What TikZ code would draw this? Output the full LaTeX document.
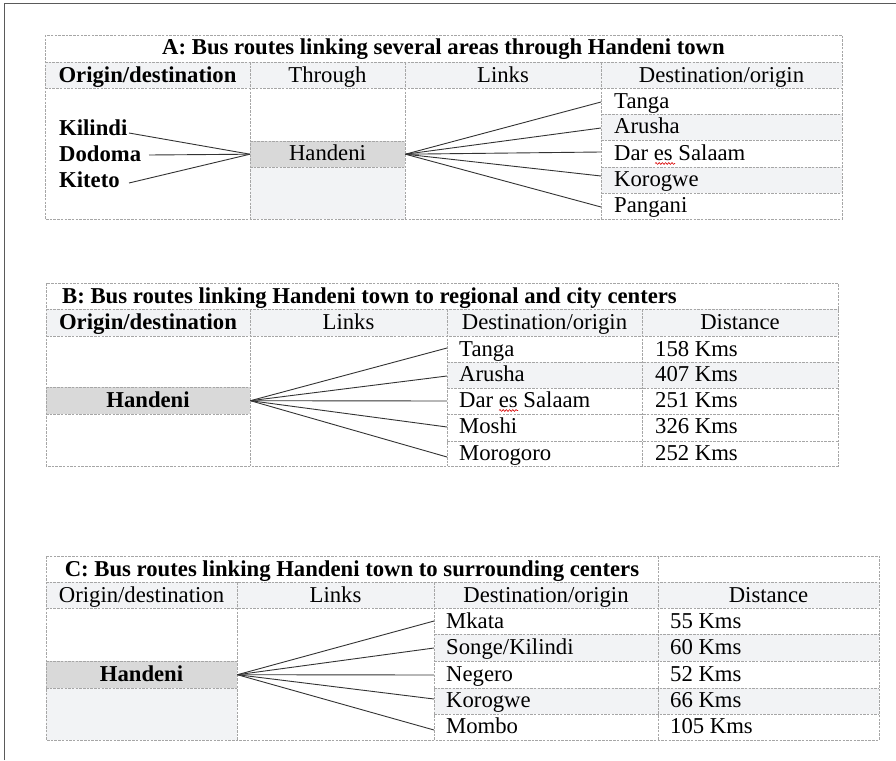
\documentclass[tikz,border=0pt]{standalone}
\usepackage{fontspec}
\setmainfont{Liberation Serif}
\usetikzlibrary{decorations.pathmorphing}
\definecolor{hdr}{HTML}{F2F3F5}
\definecolor{hcell}{HTML}{D9D9D9}
\definecolor{gridc}{HTML}{A6A6A6}
\definecolor{framec}{HTML}{5A5A5A}
\newcommand\tf{\fontsize{22.7}{27}\selectfont}
\begin{document}
\begin{tikzpicture}[x=1pt,y=-1pt,
  grid/.style={draw=gridc, line width=0.8pt, dash pattern=on 2.5pt off 1.2pt},
  lt/.style={inner sep=0pt, anchor=base west, font=\tf},
  lb/.style={inner sep=0pt, anchor=base west, font=\tf\bfseries},
  ct/.style={inner sep=0pt, anchor=base, font=\tf},
  bt/.style={inner sep=0pt, anchor=base, font=\tf\bfseries},
  cellbox/.style={fill=hcell, inner sep=0pt, anchor=north west},
  link/.style={draw=black!80, line width=0.9pt},
  squig/.style={draw=red!85!black, line width=0.6pt, decorate, decoration={snake, amplitude=0.9pt, segment length=3.2pt}}]
\useasboundingbox (0,0) rectangle (896,760);
\fill[white] (0,0) rectangle (896,760);
\draw[framec, line width=1.5pt] (4.5,760) -- (4.5,3.5) -- (896,3.5);

% ---------------- Table A ----------------
\fill[hdr] (45,62) rectangle (842,88);
\fill[hdr] (250,167) rectangle (405,219);
\fill[hdr] (601,114) rectangle (842,140);
\fill[hdr] (601,167) rectangle (842,193);
\node[cellbox, minimum width=155pt, minimum height=26pt] (hA) at (250,141) {};
\draw[grid] (45,35) rectangle (842,219);
\draw[grid] (45,62) -- (842,62) (45,88) -- (842,88);
\draw[grid] (250,62) -- (250,219) (405,62) -- (405,219) (601,62) -- (601,219);
\draw[grid] (250,141) -- (405,141) (250,167) -- (405,167);
\draw[grid] (601,114) -- (842,114) (601,140) -- (842,140) (601,167) -- (842,167) (601,193) -- (842,193);

\node[bt] (tA) at (443.5,55) {A: Bus routes linking several areas through Handeni town};
\node[bt] (hA1) at (147.5,82) {Origin/destination};
\node[ct] (hA2) at (327.5,82) {Through};
\node[ct] (hA3) at (503,82) {Links};
\node[ct] (hA4) at (721.5,82) {Destination/origin};
\node[lb] (kil) at (59,135) {Kilindi};
\node[lb] (dod) at (59,161) {Dodoma};
\node[lb] (kit) at (59,187) {Kiteto};
\node[ct] (hAt) at (327.5,160.5) {Handeni};
\node[lt] (dA1) at (614,108) {Tanga};
\node[lt] (dA2) at (614,133.5) {Arusha};
\node[lt] (dA3) at (614,160) {Dar es Salaam};
\node[lt] (dA4) at (614,186) {Korogwe};
\node[lt] (dA5) at (614,212) {Pangani};
\draw[squig] (655,163.5) -- (675,163.5);

\coordinate (sA1) at (129,133);
\coordinate (sA2) at (149,155);
\coordinate (sA3) at (129,183);
\draw[link] (sA1) -- (hA.west);
\draw[link] (sA2) -- (hA.west);
\draw[link] (sA3) -- (hA.west);
\coordinate (eA1) at (601,102);
\coordinate (eA2) at (601,128);
\coordinate (eA3) at (601,152);
\coordinate (eA4) at (601,176);
\coordinate (eA5) at (601,207);
\foreach \i in {1,...,5} \draw[link] (hA.east) -- (eA\i);

% ---------------- Table B ----------------
\fill[hdr] (46,309) rectangle (838,336);
\fill[hdr] (447,362) rectangle (838,388);
\node[cellbox, minimum width=204pt, minimum height=27pt] (hB) at (46,387) {};
\draw[grid] (46,283) rectangle (838,466);
\draw[grid] (46,309) -- (838,309) (46,336) -- (838,336);
\draw[grid] (250,309) -- (250,466) (447,309) -- (447,466) (642,309) -- (642,466);
\draw[grid] (46,387) -- (250,387) (46,414) -- (250,414);
\draw[grid] (447,362) -- (838,362) (447,388) -- (838,388) (447,414) -- (838,414) (447,441) -- (838,441);

\node[lb] (tB) at (62,303) {B: Bus routes linking Handeni town to regional and city centers};
\node[bt] (hB1) at (148,329) {Origin/destination};
\node[ct] (hB2) at (348.5,329) {Links};
\node[ct] (hB3) at (544.5,329) {Destination/origin};
\node[ct] (hB4) at (740,329) {Distance};
\node[bt] (hBt) at (148,407) {Handeni};
\node[lt] (dB1) at (459,356) {Tanga};
\node[lt] (dB2) at (459,381.5) {Arusha};
\node[lt] (dB3) at (459,407) {Dar es Salaam};
\node[lt] (dB4) at (459,433) {Moshi};
\node[lt] (dB5) at (459,460) {Morogoro};
\draw[squig] (499,410.5) -- (518,410.5);
\node[lt] (kB1) at (655,356) {158 Kms};
\node[lt] (kB2) at (655,381.5) {407 Kms};
\node[lt] (kB3) at (655,407) {251 Kms};
\node[lt] (kB4) at (655,433) {326 Kms};
\node[lt] (kB5) at (655,460) {252 Kms};
\coordinate (eB1) at (447,348);
\coordinate (eB2) at (447,376);
\coordinate (eB3) at (447,401);
\coordinate (eB4) at (447,427);
\coordinate (eB5) at (447,457);
\foreach \i in {1,...,5} \draw[link] (hB.east) -- (eB\i);

% ---------------- Table C ----------------
\fill[hdr] (46,582) rectangle (879,608);
\fill[hdr] (46,688) rectangle (237,740);
\fill[hdr] (434,634) rectangle (879,661);
\fill[hdr] (434,688) rectangle (879,714);
\node[cellbox, minimum width=191pt, minimum height=27pt] (hC) at (46,661) {};
\draw[grid] (46,556) rectangle (879,740);
\draw[grid] (46,582) -- (879,582) (46,608) -- (879,608);
\draw[grid] (658,556) -- (658,740) (237,582) -- (237,740) (434,582) -- (434,740);
\draw[grid] (46,661) -- (237,661) (46,688) -- (237,688);
\draw[grid] (434,634) -- (879,634) (434,661) -- (879,661) (434,688) -- (879,688) (434,714) -- (879,714);

\node[bt] (tC) at (352,576) {C: Bus routes linking Handeni town to surrounding centers};
\node[ct] (hC1) at (141.5,602) {Origin/destination};
\node[ct] (hC2) at (335.5,602) {Links};
\node[ct] (hC3) at (546,602) {Destination/origin};
\node[ct] (hC4) at (768.5,602) {Distance};
\node[bt] (hCt) at (141.5,681) {Handeni};
\node[lt] (dC1) at (446,628) {Mkata};
\node[lt] (dC2) at (446,654.5) {Songe/Kilindi};
\node[lt] (dC3) at (446,681) {Negero};
\node[lt] (dC4) at (446,707) {Korogwe};
\node[lt] (dC5) at (446,733) {Mombo};
\node[lt] (kC1) at (670,628) {55 Kms};
\node[lt] (kC2) at (670,654.5) {60 Kms};
\node[lt] (kC3) at (670,681) {52 Kms};
\node[lt] (kC4) at (670,707) {66 Kms};
\node[lt] (kC5) at (670,733) {105 Kms};
\coordinate (eC1) at (434,621);
\coordinate (eC2) at (434,648);
\coordinate (eC3) at (434,675);
\coordinate (eC4) at (434,699);
\coordinate (eC5) at (434,730);
\foreach \i in {1,...,5} \draw[link] (hC.east) -- (eC\i);
\end{tikzpicture}
\end{document}
